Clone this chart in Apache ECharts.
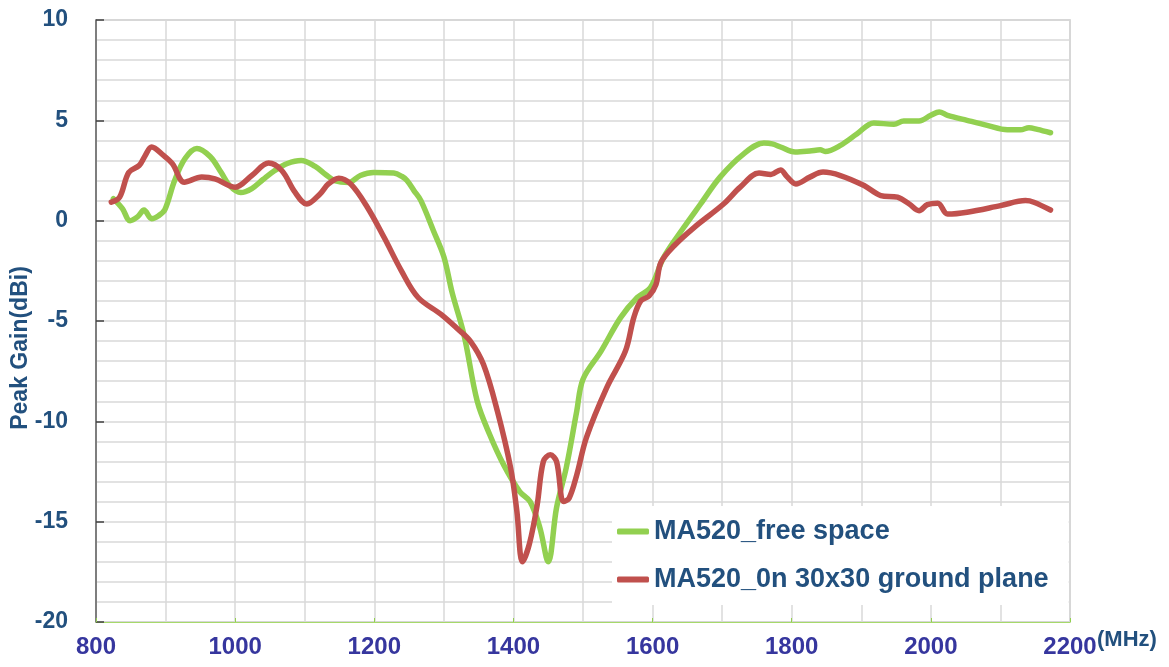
<!DOCTYPE html>
<html>
<head>
<meta charset="utf-8">
<script src="https://cdn.jsdelivr.net/npm/echarts@6/dist/echarts.min.js"></script>
<style>
html,body{margin:0;padding:0;background:#fff;}
#chart{width:1169px;height:667px;}
</style>
</head>
<body>
<div id="chart"></div>
<script>
var seriesNames = ['MA520_free space', 'MA520_0n 30x30 ground plane'];
var xTickLabels = [800, 1000, 1200, 1400, 1600, 1800, 2000, 2200];
var yTickLabels = [-20, -15, -10, -5, 0, 5, 10];

var freqFree = [825,838,849,860,869,880,890,899,913,928,945,964,980,992,1008,1024,1040,1057,1075,1095,1115,1130,1143,1163,1180,1199,1228,1240,1247,1257,1267,1285,1300,1312,1329,1348,1366,1386,1409,1424,1438,1450,1462,1476,1491,1500,1526,1554,1578,1597,1616,1645,1669,1697,1731,1760,1772,1784,1805,1826,1841,1848,1870,1894,1918,1947,1961,1983,2000,2012,2024,2052,2081,2110,2129,2141,2153,2172];
var gainFree = [1.1,0.6,0.0,0.2,0.53,0.1,0.25,0.55,2.0,3.1,3.6,3.2,2.4,1.75,1.4,1.6,2.05,2.5,2.85,3.0,2.7,2.3,2.0,1.9,2.25,2.4,2.37,2.2,2.0,1.5,1.0,-0.5,-1.8,-3.6,-5.7,-9.0,-10.67,-12.17,-13.5,-14.0,-15.3,-17.0,-14.3,-12.3,-9.5,-7.9,-6.5,-4.83,-3.83,-3.33,-1.83,-0.33,0.83,2.17,3.33,3.87,3.83,3.67,3.42,3.47,3.53,3.45,3.75,4.33,4.87,4.8,4.97,4.97,5.25,5.42,5.25,5.0,4.75,4.53,4.53,4.63,4.55,4.38];

var freqGround = [822,834,847,862,870,880,897,910,927,952,971,1000,1024,1048,1067,1086,1103,1122,1134,1149,1166,1190,1214,1239,1263,1296,1320,1338,1357,1377,1396,1405,1413,1423,1434,1443,1453,1462,1472,1480,1491,1505,1534,1561,1573,1583,1595,1605,1612,1631,1660,1702,1726,1753,1770,1784,1793,1806,1826,1845,1870,1904,1928,1952,1969,1983,1995,2010,2024,2052,2100,2136,2148,2172];
var gainGround = [0.92,1.17,2.4,2.75,3.2,3.67,3.25,2.83,1.92,2.17,2.08,1.67,2.25,2.87,2.5,1.42,0.83,1.33,1.83,2.12,1.83,0.67,-0.83,-2.5,-3.83,-4.67,-5.4,-6.0,-7.17,-9.5,-12.33,-14.5,-17.0,-16.1,-14.2,-12.0,-11.67,-12.0,-14.0,-13.83,-12.67,-10.8,-8.33,-6.5,-4.83,-4.0,-3.75,-3.17,-2.08,-1.25,-0.33,0.83,1.67,2.37,2.3,2.53,2.2,1.83,2.17,2.42,2.25,1.75,1.25,1.17,0.83,0.5,0.8,0.87,0.33,0.42,0.75,1.0,0.92,0.53];

function pairs(xs, ys){ return xs.map(function(x,i){ return [x, ys[i]]; }); }

var chart = echarts.init(document.getElementById('chart'), null, {renderer:'canvas'});
var gridColor = '#d9d9d9';
var option = {
  animation: false,
  backgroundColor: '#ffffff',
  grid: {left: 96, top: 20, right: 99, bottom: 45, show: true, borderColor: '#c4c4c4', borderWidth: 1.5, backgroundColor: 'transparent'},
  xAxis: {
    type: 'value',
    min: xTickLabels[0], max: xTickLabels[xTickLabels.length-1], interval: 200,
    axisLine: {show: true, onZero: false, lineStyle: {color: '#a6d96a', width: 1}},
    axisTick: {show: true, inside: true, length: 4, lineStyle: {color: '#92d050'}},
    minorTick: {show: false, splitNumber: 2},
    splitLine: {show: true, lineStyle: {color: gridColor, width: 1.5}},
    minorSplitLine: {show: true, lineStyle: {color: gridColor, width: 1.5}},
    axisLabel: {color: '#36369e', fontSize: 24, fontWeight: 'bold', fontFamily: 'Liberation Sans, Arial, sans-serif', margin: 13,
      formatter: function(v){ return String(v); }}
  },
  yAxis: {
    type: 'value',
    min: yTickLabels[0], max: yTickLabels[yTickLabels.length-1], interval: 5,
    axisLine: {show: true, onZero: false, lineStyle: {color: '#606060', width: 1.5}},
    axisTick: {show: true, inside: true, length: 8, lineStyle: {color: '#404040', width: 1.5}},
    minorTick: {show: false, splitNumber: 5},
    splitLine: {show: true, lineStyle: {color: gridColor, width: 1.5}},
    minorSplitLine: {show: true, lineStyle: {color: gridColor, width: 1.5}},
    axisLabel: {color: '#22507e', fontSize: 23, fontWeight: 'bold', fontFamily: 'Liberation Sans, Arial, sans-serif', margin: 28}
  },
  legend: {
    orient: 'vertical',
    left: 612, top: 506,
    backgroundColor: '#ffffff',
    padding: [12, 20, 12, 5],
    itemGap: 21,
    itemWidth: 32, itemHeight: 6,
    itemTextGap: 2,
    icon: 'roundRect',
    textStyle: {color: '#22507e', fontSize: 27, fontWeight: 'bold', fontFamily: 'Liberation Sans, Arial, sans-serif'},
    data: seriesNames
  },
  graphic: [
    {type: 'text', left: 1097, top: 629, style: {text: '(MHz)', fill: '#22507e', font: 'bold 22px "Liberation Sans", Arial, sans-serif'}},
    {type: 'text', x: 21, y: 348, rotation: Math.PI/2, style: {text: 'Peak Gain(dBi)', fill: '#22507e', font: 'bold 23px "Liberation Sans", Arial, sans-serif', textAlign: 'center', textVerticalAlign: 'middle'}}
  ],
  series: [
    {name: seriesNames[0], type: 'line', data: pairs(freqFree, gainFree), smooth: 0.35, showSymbol: false, symbol: 'none',
     lineStyle: {color: '#92d050', width: 5.5, cap: 'round', join: 'round'}, itemStyle: {color: '#92d050'}},
    {name: seriesNames[1], type: 'line', data: pairs(freqGround, gainGround), smooth: 0.35, showSymbol: false, symbol: 'none',
     lineStyle: {color: '#c0504d', width: 5.5, cap: 'round', join: 'round'}, itemStyle: {color: '#c0504d'}}
  ]
};
chart.setOption(option);
</script>
</body>
</html>
